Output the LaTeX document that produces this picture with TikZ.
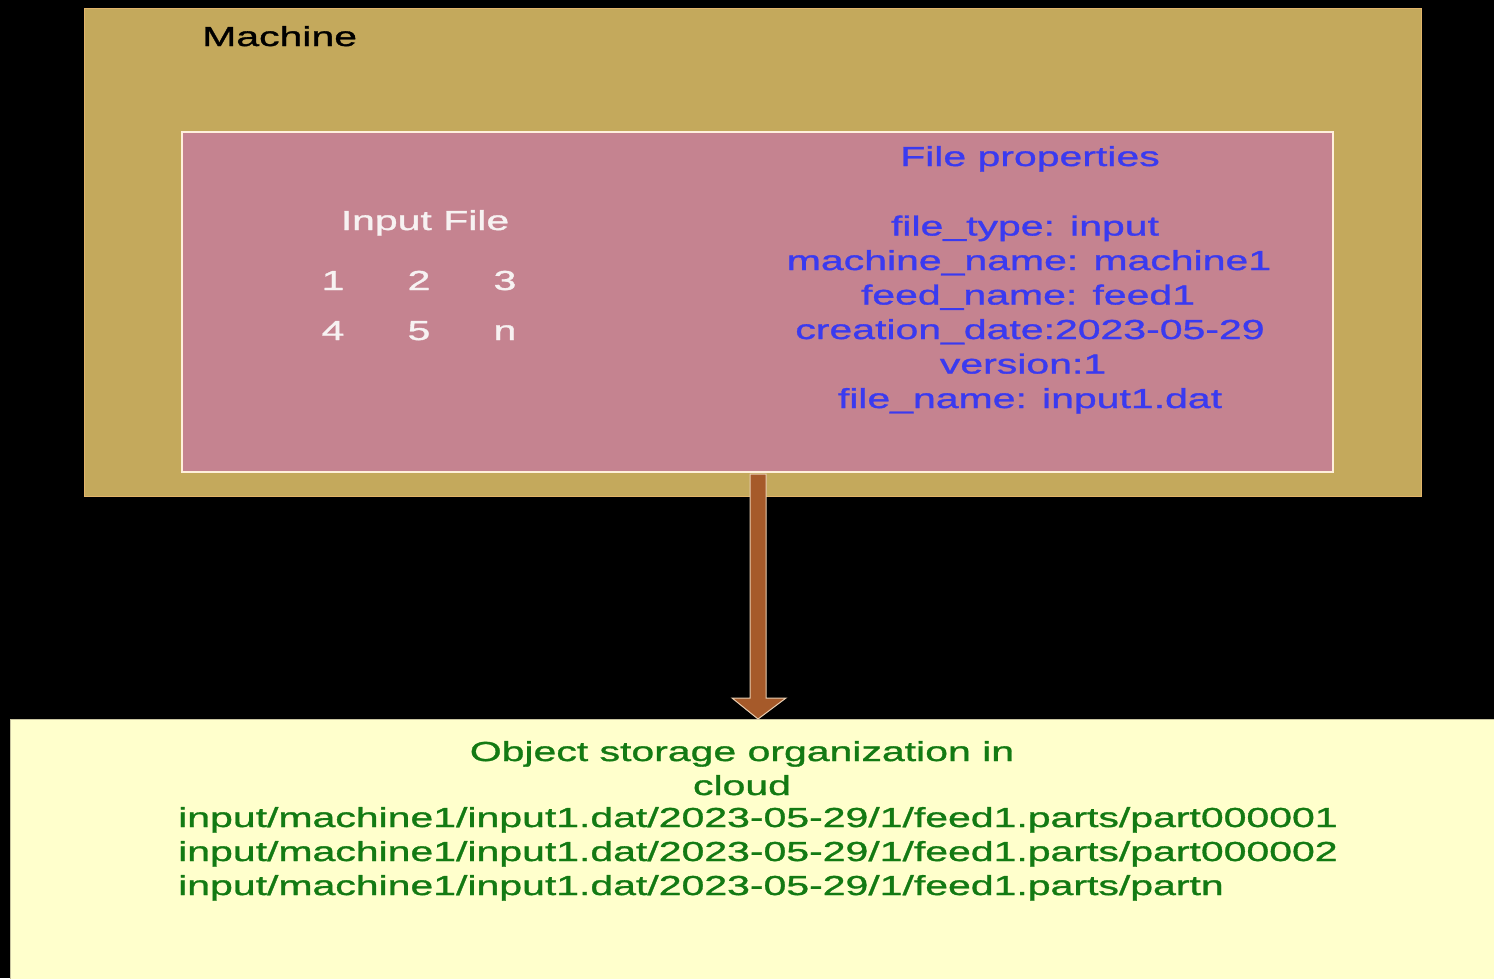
\documentclass[tikz,border=0pt]{standalone}
\usepackage{fontspec}
\setmainfont{Liberation Sans}[FakeStretch=1.49,FakeBold=1.2]
\usetikzlibrary{calc}
\definecolor{bgblack}{HTML}{000000}
\definecolor{machinefill}{HTML}{C4A95C}
\definecolor{machineline}{HTML}{E2B46A}
\definecolor{pinkfill}{HTML}{C58390}
\definecolor{pinkline}{HTML}{FFF0DC}
\definecolor{storefill}{HTML}{FFFFCC}
\definecolor{storeline}{HTML}{C8C4A0}
\definecolor{propblue}{HTML}{3A3AF0}
\definecolor{storegreen}{HTML}{137A13}
\definecolor{arrowfill}{HTML}{A65A2A}
\definecolor{arrowline}{HTML}{E8CDB0}
\definecolor{filewhite}{HTML}{F7F2F2}
\tikzset{
  box/.style={rectangle, anchor=north west, inner sep=0pt, outer sep=0pt},
  machinebox/.style={box, fill=machinefill, draw=machineline, line width=1pt},
  filebox/.style={box, fill=pinkfill, draw=pinkline, line width=1.6pt},
  storebox/.style={box, fill=storefill, draw=storeline, line width=1pt},
  txt/.style={inner sep=0pt, anchor=base, font=\fontsize{27.5}{34.6}\selectfont},
  blacktxt/.style={txt, text=black},
  whitetxt/.style={txt, text=filewhite},
  bluetxt/.style={txt, text=propblue},
  greentxt/.style={txt, text=storegreen},
  bigarrow/.style={fill=arrowfill, draw=arrowline, line width=1pt, line join=miter}
}
\begin{document}
\begin{tikzpicture}[x=1pt,y=-1pt]
\useasboundingbox (0,0) rectangle (1494,978);
\fill[bgblack] (0,0) rectangle (1494,978);

\node[machinebox, minimum width=1337pt, minimum height=488pt] (machine) at (84,8) {};
\node[filebox, minimum width=1151pt, minimum height=340pt] (file) at (182,132) {};
\node[storebox, minimum width=1490pt, minimum height=265pt] (store) at (10,719) {};

\node[blacktxt, anchor=base west] (machinelbl) at (202,46) {Machine};

\node[whitetxt] (inputlbl) at (425,230) {Input File};
\node[whitetxt] (n1) at (333,290) {1};
\node[whitetxt] (n2) at (419,290) {2};
\node[whitetxt] (n3) at (505,290) {3};
\node[whitetxt] (n4) at (333,340) {4};
\node[whitetxt] (n5) at (419,340) {5};
\node[whitetxt] (nn) at (505,340) {n};

\node[bluetxt] (props) at (1030,166) {File properties};
\node[bluetxt] (p1) at (1025,235.5) {file\_type: input};
\node[bluetxt] (p2) at (1029,270) {machine\_name: machine1};
\node[bluetxt] (p3) at (1028,304.5) {feed\_name: feed1};
\node[bluetxt] (p4) at (1030,339) {creation\_date:2023-05-29};
\node[bluetxt] (p5) at (1023,373.5) {version:1};
\node[bluetxt] (p6) at (1030,408) {file\_name: input1.dat};

\node[greentxt] (s1) at (742,761) {Object storage organization in};
\node[greentxt] (s2) at (742,795) {cloud};
\node[greentxt, anchor=base west] (s3) at (178,827) {input/machine1/input1.dat/2023-05-29/1/feed1.parts/part000001};
\node[greentxt, anchor=base west] (s4) at (178,861) {input/machine1/input1.dat/2023-05-29/1/feed1.parts/part000002};
\node[greentxt, anchor=base west] (s5) at (178,895) {input/machine1/input1.dat/2023-05-29/1/feed1.parts/partn};

\coordinate (atop) at ($(file.south)+(0.5,2)$);
\coordinate (atip) at (atop |- store.north);
\draw[bigarrow] ($(atop)+(-8,0)$) -- ($(atip)+(-8,-21)$) -- ($(atip)+(-26,-21)$) -- (atip)
  -- ($(atip)+(28,-21)$) -- ($(atip)+(8,-21)$) -- ($(atop)+(8,0)$) -- cycle;
\end{tikzpicture}
\end{document}
